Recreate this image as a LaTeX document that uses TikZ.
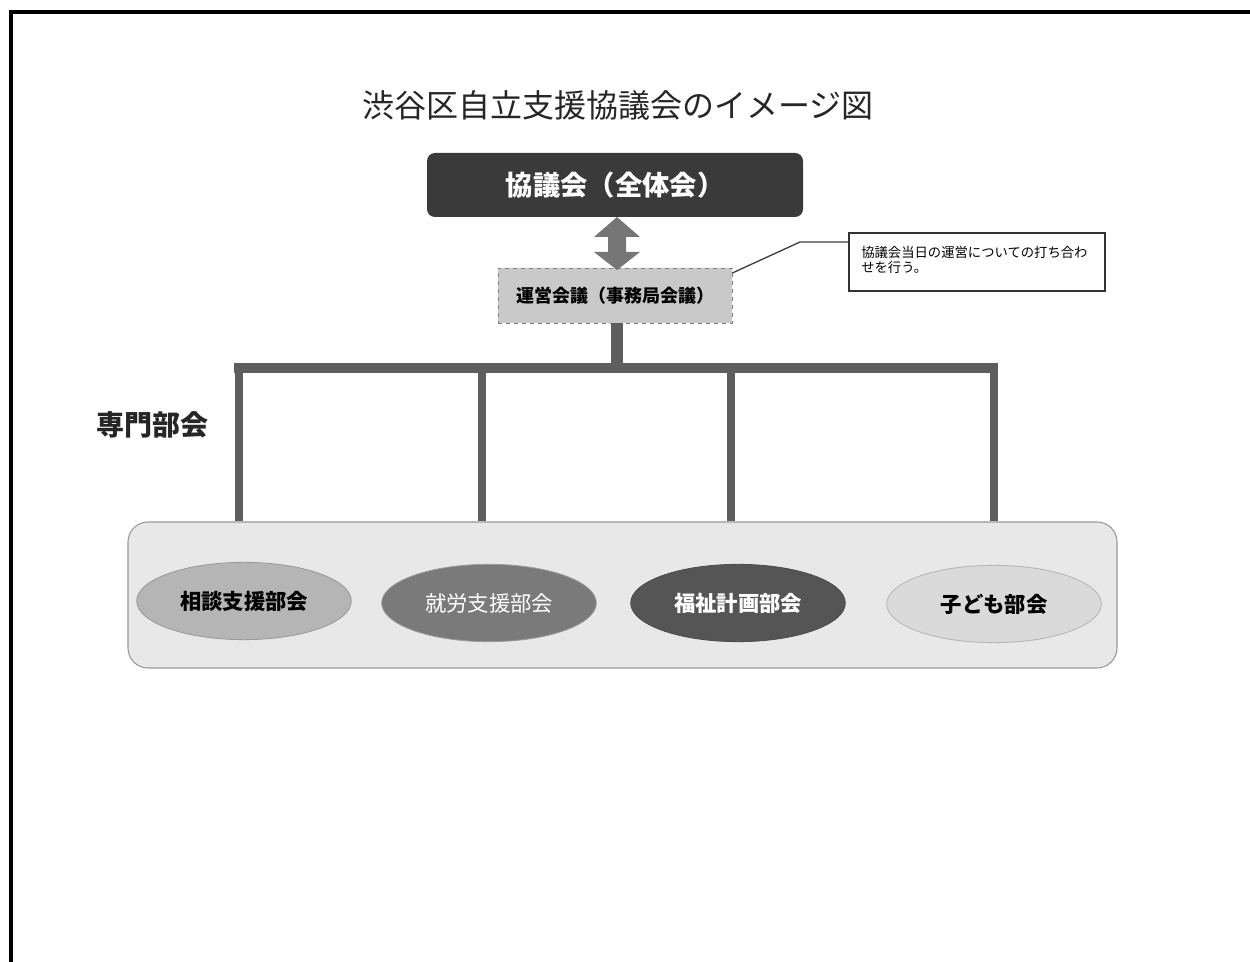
\documentclass[tikz,border=0pt]{standalone}
\usepackage{fontspec}
\newfontfamily\jp{Noto Sans CJK JP}
\usetikzlibrary{calc,shapes.geometric}
\definecolor{darkbox}{HTML}{3A3A3A}
\definecolor{midbox}{HTML}{C9C9C9}
\definecolor{connector}{HTML}{5E5E5E}
\definecolor{panel}{HTML}{E8E8E8}
\definecolor{ellA}{HTML}{B5B5B5}
\definecolor{ellB}{HTML}{7A7A7A}
\definecolor{ellC}{HTML}{555555}
\definecolor{ellD}{HTML}{DADADA}
\tikzset{
  every node/.style={font=\jp},
  ellnode/.style={ellipse, minimum width=161pt, minimum height=58pt, draw=gray!80, line width=0.6pt, font=\jp\bfseries\fontsize{16}{19}\selectfont},
  treeline/.style={draw=connector, line width=6pt},
}
\begin{document}
\begin{tikzpicture}[x=0.75pt,y=-0.75pt]
\useasboundingbox (0,0) rectangle (1250,962);
\fill[white] (0,0) rectangle (1250,962);
% frame
\draw[line width=3pt, line cap=rect] (11,962) -- (11,12.5) -- (1250,12.5);
% title
\node[text=black!85] (title) at (618,105) {\fontsize{24}{28}\selectfont 渋谷区自立支援協議会のイメージ図};
% top box
\node[fill=darkbox, rounded corners=6pt, minimum width=282pt, minimum height=48pt, text=white, font=\jp\bfseries\fontsize{20.5}{24}\selectfont] (top) at (615,185) {協議会（全体会）};
% middle box
\node[fill=midbox, draw=gray, dashed, line width=0.5pt, minimum width=175.5pt, minimum height=41.25pt, font=\jp\bfseries\fontsize{13.5}{16}\selectfont] (mid) at (615,295.5) {運営会議（事務局会議）};
% callout
\node[fill=white, draw=black!80, line width=1.5pt, minimum width=192pt, minimum height=43.5pt, inner sep=0pt] (note) at (977,262) {};
\node[anchor=north west, align=left, inner sep=0pt, font=\jp\fontsize{10}{11}\selectfont] (notetext) at (861,246) {協議会当日の運営についての打ち合わ\\せを行う。};
\coordinate (bend) at (800,242);
\draw[black!75, line width=1pt] (mid.east |- 0,273) -- (bend) -- (note.west |- bend);
% double arrow
\fill[connector!85] (617,217) -- (640,237) -- (626,237) -- (626,252) -- (640,252) -- (617,270) -- (594,252) -- (608,252) -- (608,237) -- (594,237) -- cycle;
% panel
\node[fill=panel, draw=gray!80, line width=0.8pt, rounded corners=15pt, minimum width=741.75pt, minimum height=109.5pt] (panel) at (622.5,595) {};
% tree
\coordinate (barL) at (234,368);
\coordinate (barR) at (998,368);
\coordinate (d1) at (239,368);
\coordinate (d2) at (482,368);
\coordinate (d3) at (731,368);
\coordinate (d4) at (994,368);
\draw[draw=connector, line width=9pt] (mid.south -| 617,0) -- (617,368);
\draw[draw=connector, line width=7.5pt] (barL) -- (barR);
\foreach \c in {d1,d2,d3,d4}{
  \draw[treeline] (\c) -- (\c |- panel.north);
}
% label
\node[font=\jp\bfseries\fontsize{21}{24}\selectfont, text=black!85] (label) at (152,425) {専門部会};
% ellipses
\node[ellnode, fill=ellA] (e1) at (244,601) {相談支援部会};
\node[ellnode, fill=ellB, text=white, font=\jp\fontsize{16}{19}\selectfont] (e2) at (489,603) {就労支援部会};
\node[ellnode, fill=ellC, text=white, draw=gray!60!black] (e3) at (738,603) {福祉計画部会};
\node[ellnode, fill=ellD, draw=gray!60] (e4) at (994,604) {子ども部会};
\end{tikzpicture}
\end{document}
